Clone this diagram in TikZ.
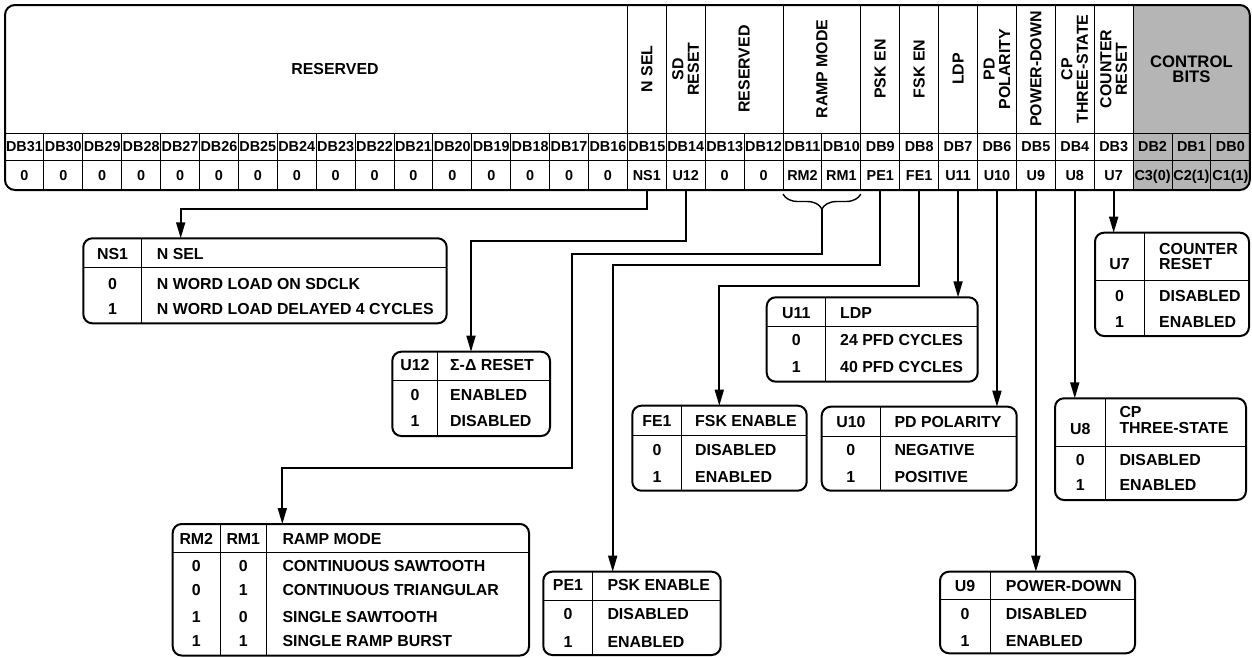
\documentclass[tikz,border=0pt]{standalone}
\usepackage{fontspec}
\setmainfont{Liberation Sans}
\usetikzlibrary{arrows.meta, decorations.pathreplacing, calc}
\definecolor{ctrlgray}{gray}{0.71}
\newcommand\cellfont{\fontsize{14.4}{15}\selectfont\bfseries}
\newcommand\tblfont{\fontsize{15.9}{15.5}\selectfont\bfseries}

\begin{document}
\begin{tikzpicture}[x=1pt, y=-1pt, >={Stealth[length=16pt, width=9pt, inset=0pt]},
    cell/.style={draw, line width=0.9pt, minimum width=38.9pt, inner sep=0pt, outer sep=0pt, font=\cellfont, text height=10.3pt, text depth=0pt},
    hdrv/.style={draw, line width=0.9pt, rotate=90, minimum width=128pt, inner sep=0pt, outer sep=0pt, font=\tblfont, align=center},
    hdr/.style={inner sep=0pt, font=\tblfont, align=center},
    tbl/.style={draw, line width=2pt, rounded corners=9pt, anchor=north west, inner sep=0pt, outer sep=0pt},
    rule/.style={line width=1pt},
    ctxt/.style={inner sep=0pt, font=\tblfont, text height=11.4pt, text depth=0pt},
    ltxt/.style={ctxt, anchor=west},
    mtxt/.style={inner sep=0pt, font=\tblfont, align=left, anchor=west},
    conn/.style={->, line width=1.7pt},
    brc/.style={decorate, decoration={brace, mirror, amplitude=15pt}, line width=1.4pt}]

    \useasboundingbox (0,0) rectangle (1252,657);

    \begin{scope}
    \clip[rounded corners=10pt] (5,5) rectangle (1249.8,190);
    \fill[ctrlgray] (1133.1,5) rectangle (1249.8,190);
    \foreach \i in {0,...,31}
        \node[cell, minimum height=27pt] (db\i) at ({5+(31-\i)*38.9+19.45},146.5) {DB\i};
    \foreach \i in {12,13,16,17,...,31}
        \node[cell, minimum height=30pt] (v\i) at ({5+(31-\i)*38.9+19.45},175) {0};
    \foreach \i/\lbl in {15/NS1, 14/U12, 11/RM2, 10/RM1, 9/PE1, 8/FE1, 7/U11, 6/U10, 5/U9, 4/U8, 3/U7, 2/{C3(0)}, 1/{C2(1)}, 0/{C1(1)}}
        \node[cell, minimum height=30pt] (v\i) at ({5+(31-\i)*38.9+19.45},175) {\lbl};
    \foreach \bit/\nb/\lbl in {15/1/N SEL, 14/1/{SD\\RESET}, 13/2/RESERVED, 11/2/RAMP MODE, 9/1/PSK EN, 8/1/FSK EN, 7/1/LDP, 6/1/{PD\\POLARITY}, 5/1/POWER-DOWN, 4/1/{CP\\THREE-STATE}, 3/1/{COUNTER\\RESET}}
        \node[hdrv, minimum height=\nb*38.9pt] (h\bit) at ({5+(31-\bit)*38.9+\nb*19.45},69) {\lbl};
    \end{scope}
    \node[hdr] (hres) at (335,69) {RESERVED};
    \node[hdr, font=\fontsize{16.7}{15}\selectfont\bfseries] (hctl) at (1191.45,69) {CONTROL\\BITS};
    \draw[line width=2pt, rounded corners=10pt] (5,5) rectangle (1249.8,190);

    \node[tbl, minimum width=363.4pt, minimum height=85pt] (tNS) at (83.3,238.3) {};
    \draw[rule] (83.3,267.3) -- (446.7,267.3) (141.7,238.3) -- (141.7,323.3);
    \node[ctxt] (nsk) at (112.5,254) {NS1};
    \node[ltxt] (nsh) at (156.7,254) {N SEL};
    \node[ctxt] (ns0) at (112.5,283.3) {0};
    \node[ltxt] (ns0t) at (156.7,283.3) {N WORD LOAD ON SDCLK};
    \node[ctxt] (ns1) at (112.5,308.3) {1};
    \node[ltxt] (ns1t) at (156.7,308.3) {N WORD LOAD DELAYED 4 CYCLES};

    \node[tbl, minimum width=157.7pt, minimum height=84.3pt] (tU12) at (392.3,351.7) {};
    \draw[rule] (392.3,380) -- (550,380) (437.7,351.7) -- (437.7,436);
    \node[ctxt] (sdk) at (415,365) {U12};
    \node[ltxt] (sdh) at (450,365) {Σ-Δ RESET};
    \node[ctxt] (sd0) at (415,394.3) {0};
    \node[ltxt] (sd0t) at (450,394.3) {ENABLED};
    \node[ctxt] (sd1) at (415,420.7) {1};
    \node[ltxt] (sd1t) at (450,420.7) {DISABLED};

    \node[tbl, minimum width=356.3pt, minimum height=131.5pt] (tRM) at (172.7,524) {};
    \draw[rule] (172.7,552.3) -- (529,552.3) (220,524) -- (220,655.5) (266.7,524) -- (266.7,655.5);
    \node[ctxt] (rmk2) at (196.3,538.3) {RM2};
    \node[ctxt] (rmk1) at (243.3,538.3) {RM1};
    \node[ltxt] (rmh) at (282.3,538.3) {RAMP MODE};
    \node[ctxt] (rma2) at (196.3,565.7) {0};
    \node[ctxt] (rma1) at (243.3,565.7) {0};
    \node[ltxt] (rmat) at (282.3,565.7) {CONTINUOUS SAWTOOTH};
    \node[ctxt] (rmb2) at (196.3,590) {0};
    \node[ctxt] (rmb1) at (243.3,590) {1};
    \node[ltxt] (rmbt) at (282.3,590) {CONTINUOUS TRIANGULAR};
    \node[ctxt] (rmc2) at (196.3,616.7) {1};
    \node[ctxt] (rmc1) at (243.3,616.7) {0};
    \node[ltxt] (rmct) at (282.3,616.7) {SINGLE SAWTOOTH};
    \node[ctxt] (rmd2) at (196.3,640.7) {1};
    \node[ctxt] (rmd1) at (243.3,640.7) {1};
    \node[ltxt] (rmdt) at (282.3,640.7) {SINGLE RAMP BURST};

    \node[tbl, minimum width=177.4pt, minimum height=83.3pt] (tPE) at (543.3,571.7) {};
    \draw[rule] (543.3,600) -- (720.7,600) (592.7,571.7) -- (592.7,655);
    \node[ctxt] (pek) at (568,585) {PE1};
    \node[ltxt] (peh) at (607.3,585) {PSK ENABLE};
    \node[ctxt] (pe0) at (568,613.3) {0};
    \node[ltxt] (pe0t) at (607.3,613.3) {DISABLED};
    \node[ctxt] (pe1) at (568,641.7) {1};
    \node[ltxt] (pe1t) at (607.3,641.7) {ENABLED};

    \node[tbl, minimum width=174.4pt, minimum height=85pt] (tFE) at (632.3,405.7) {};
    \draw[rule] (632.3,435) -- (806.7,435) (681.7,405.7) -- (681.7,490.7);
    \node[ctxt] (fek) at (657,421) {FE1};
    \node[ltxt] (feh) at (695,421) {FSK ENABLE};
    \node[ctxt] (fe0) at (657,449.3) {0};
    \node[ltxt] (fe0t) at (695,449.3) {DISABLED};
    \node[ctxt] (fe1) at (657,476.7) {1};
    \node[ltxt] (fe1t) at (695,476.7) {ENABLED};

    \node[tbl, minimum width=211pt, minimum height=84.4pt] (tU11) at (766.7,297.3) {};
    \draw[rule] (766.7,326) -- (977.7,326) (825.7,297.3) -- (825.7,381.7);
    \node[ctxt] (ldk) at (796.2,312.7) {U11};
    \node[ltxt] (ldh) at (840,312.7) {LDP};
    \node[ctxt] (ld0) at (796.2,340) {0};
    \node[ltxt] (ld0t) at (840,340) {24 PFD CYCLES};
    \node[ctxt] (ld1) at (796.2,366.7) {1};
    \node[ltxt] (ld1t) at (840,366.7) {40 PFD CYCLES};

    \node[tbl, minimum width=195pt, minimum height=84pt] (tU10) at (821.7,406.7) {};
    \draw[rule] (821.7,436) -- (1016.7,436) (880,406.7) -- (880,490.7);
    \node[ctxt] (pdk) at (850.85,421.5) {U10};
    \node[ltxt] (pdh) at (894.3,421.5) {PD POLARITY};
    \node[ctxt] (pd0) at (850.85,449.3) {0};
    \node[ltxt] (pd0t) at (894.3,449.3) {NEGATIVE};
    \node[ctxt] (pd1) at (850.85,476.5) {1};
    \node[ltxt] (pd1t) at (894.3,476.5) {POSITIVE};

    \node[tbl, minimum width=195pt, minimum height=81.6pt] (tU9) at (940,571.7) {};
    \draw[rule] (940,599.3) -- (1135,599.3) (990,571.7) -- (990,653.3);
    \node[ctxt] (pwk) at (965,586) {U9};
    \node[ltxt] (pwh) at (1005.7,586) {POWER-DOWN};
    \node[ctxt] (pw0) at (965,614) {0};
    \node[ltxt] (pw0t) at (1005.7,614) {DISABLED};
    \node[ctxt] (pw1) at (965,641) {1};
    \node[ltxt] (pw1t) at (1005.7,641) {ENABLED};

    \node[tbl, minimum width=191pt, minimum height=101.7pt] (tU8) at (1055,398.3) {};
    \draw[rule] (1055,446) -- (1246,446) (1105.7,398.3) -- (1105.7,500);
    \node[ctxt] (cpk) at (1080.35,428.3) {U8};
    \node[mtxt] (cph) at (1119.3,420) {CP\\THREE-STATE};
    \node[ctxt] (cp0) at (1080.35,459.3) {0};
    \node[ltxt] (cp0t) at (1119.3,459.3) {DISABLED};
    \node[ctxt] (cp1) at (1080.35,485) {1};
    \node[ltxt] (cp1t) at (1119.3,485) {ENABLED};

    \node[tbl, minimum width=154pt, minimum height=103.3pt] (tU7) at (1095,232.7) {};
    \draw[rule] (1095,280.7) -- (1249,280.7) (1144,232.7) -- (1144,336);
    \node[ctxt] (crk) at (1119.5,264) {U7};
    \node[mtxt] (crh) at (1159,256.65) {COUNTER\\RESET};
    \node[ctxt] (cr0) at (1119.5,295.7) {0};
    \node[ltxt] (cr0t) at (1159,295.7) {DISABLED};
    \node[ctxt] (cr1) at (1119.5,321.7) {1};
    \node[ltxt] (cr1t) at (1159,321.7) {ENABLED};

    \draw[brc] ([yshift=-4pt]v11.south west) -- ([yshift=-4pt]v10.south east);
    \coordinate (rmtip) at ($(v11.south east)+(0,19)$);

    \draw[conn] (v15.south) -- ++(0,19.3) -| ([xshift=97.4pt]tNS.north west);
    \draw[conn] (v14.south) -- ++(0,51) -| ([xshift=78.7pt]tU12.north west);
    \draw[conn] (rmtip) |- (571.7,254) |- (282.3,467.7) -- ([xshift=109.6pt]tRM.north west);
    \draw[conn] (v9.south) -- ++(0,75) -| ([xshift=69.4pt]tPE.north west);
    \draw[conn] (v8.south) -- ++(0,95.7) -| ([xshift=87pt]tFE.north west);
    \draw[conn] (v7.south) -- (v7.south |- tU11.north);
    \draw[conn] (v6.south) -- (v6.south |- tU10.north);
    \draw[conn] (v5.south) -- (v5.south |- tU9.north);
    \draw[conn] (v4.south) -- (v4.south |- tU8.north);
    \draw[conn] (v3.south) -- (v3.south |- tU7.north);
\end{tikzpicture}
\end{document}
